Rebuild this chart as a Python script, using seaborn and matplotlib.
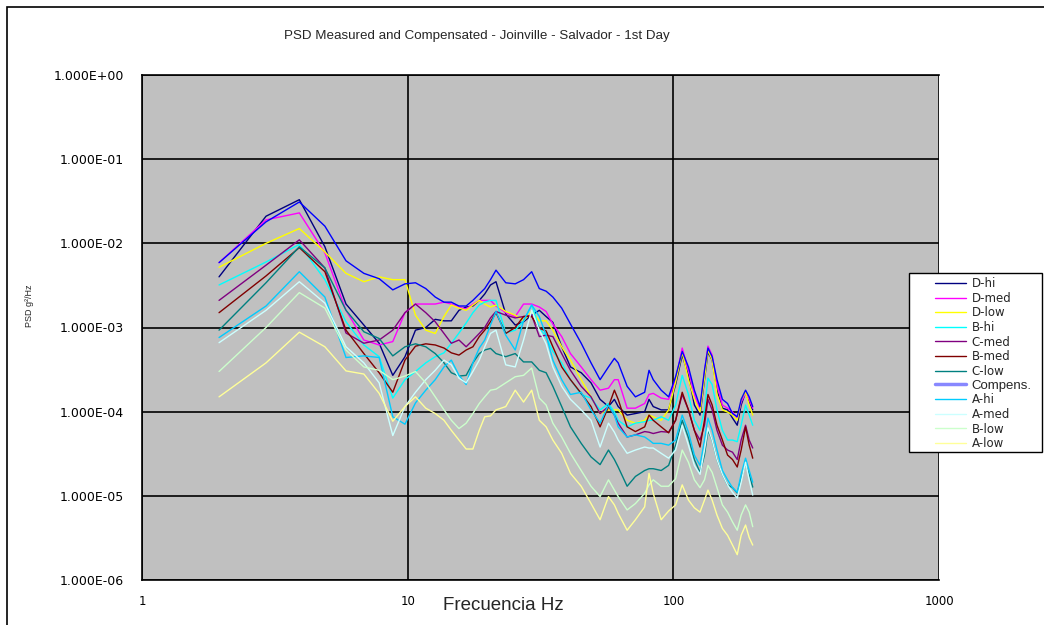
import numpy as np
import pandas as pd
import matplotlib
matplotlib.use("Agg")
import matplotlib.pyplot as plt
from matplotlib.lines import Line2D
from matplotlib.patches import Rectangle
from matplotlib.ticker import FixedLocator, FixedFormatter, NullLocator
import seaborn as sns

# ---------------- text ----------------
title = "PSD Measured and Compensated - Joinville - Salvador - 1st Day"
x_label = "Frecuencia Hz"
y_label = "PSD g²/Hz"
x_ticks = [1, 10, 100, 1000]
x_tick_labels = ["1", "10", "100", "1000"]
y_ticks = [1e-6, 1e-5, 1e-4, 1e-3, 1e-2, 1e-1, 1e0]
y_tick_labels = ["1.000E-06", "1.000E-05", "1.000E-04", "1.000E-03",
                 "1.000E-02", "1.000E-01", "1.000E+00"]

# ---------------- data ----------------
freq_hz = [1.95, 2.93, 3.91, 4.88, 5.86, 6.84, 7.81, 8.79, 9.77, 10.7,
           11.7, 12.7, 13.7, 14.6, 15.6, 16.6, 17.6, 18.6, 19.5, 20.5,
           21.5, 23.4, 25.4, 27.3, 29.3, 31.3, 33.2, 35.2, 38, 41,
           45, 49, 53, 57, 60, 62, 67, 72, 78, 81,
           84, 90, 96, 102, 108, 114, 120, 126, 131, 135,
           140, 146, 153, 160, 167, 174, 180, 187, 193, 199]

series_names = ["D-hi", "D-med", "D-low", "B-hi", "C-med", "B-med",
                "C-low", "Compens.", "A-hi", "A-med", "B-low", "A-low"]
series_colors = ["#000080", "#FF00FF", "#FFFF00", "#00FFFF", "#800080", "#800000",
                 "#008080", "#0000FF", "#00CCFF", "#CCFFFF", "#CCFFCC", "#FFFF99"]

d_hi = [4.0e-3, 2.1e-2, 3.3e-2, 9.1e-3, 1.9e-3, 1.07e-3, 6.5e-4, 2.7e-4, 4.5e-4, 9.3e-4,
        1.0e-3, 1.25e-3, 1.2e-3, 1.2e-3, 1.6e-3, 1.75e-3, 1.8e-3, 2.1e-3, 2.5e-3, 3.2e-3,
        3.5e-3, 1.45e-3, 1.07e-3, 1.17e-3, 1.4e-3, 1.6e-3, 1.35e-3, 1.15e-3, 5.9e-4, 3.4e-4,
        2.9e-4, 2.2e-4, 1.4e-4, 1.15e-4, 1.4e-4, 1.15e-4, 9.1e-5, 9.5e-5, 1.0e-4, 1.4e-4,
        1.15e-4, 1.05e-4, 1.05e-4, 2.1e-4, 4.7e-4, 2.7e-4, 1.2e-4, 9.1e-5, 2.4e-4, 5.1e-4,
        4.1e-4, 1.8e-4, 1.1e-4, 1.05e-4, 8.4e-5, 6.9e-5, 1.2e-4, 1.7e-4, 1.3e-4, 1.05e-4]

d_med = [5.9e-3, 1.9e-2, 2.3e-2, 7.7e-3, 1.6e-3, 7.1e-4, 6.2e-4, 6.8e-4, 1.5e-3, 1.9e-3,
         1.9e-3, 1.9e-3, 2.0e-3, 1.9e-3, 1.75e-3, 1.65e-3, 1.9e-3, 2.1e-3, 2.1e-3, 2.1e-3,
         1.8e-3, 1.5e-3, 1.35e-3, 1.9e-3, 1.9e-3, 1.75e-3, 1.55e-3, 1.1e-3, 7.8e-4, 4.9e-4,
         3.4e-4, 2.4e-4, 1.8e-4, 1.9e-4, 2.4e-4, 2.4e-4, 1.1e-4, 1.1e-4, 1.25e-4, 1.6e-4,
         1.65e-4, 1.45e-4, 1.4e-4, 2.4e-4, 5.7e-4, 3.1e-4, 1.6e-4, 1.05e-4, 3.0e-4, 6.0e-4,
         4.7e-4, 2.1e-4, 1.2e-4, 1.1e-4, 9.9e-5, 8.4e-5, 1.3e-4, 1.65e-4, 1.4e-4, 1.1e-4]

d_low = [5.2e-3, 1.0e-2, 1.5e-2, 7.9e-3, 4.4e-3, 3.5e-3, 4.0e-3, 3.7e-3, 3.7e-3, 1.4e-3,
         9.3e-4, 8.5e-4, 1.35e-3, 1.85e-3, 1.7e-3, 1.6e-3, 1.85e-3, 2.1e-3, 1.9e-3, 1.75e-3,
         1.85e-3, 1.55e-3, 1.4e-3, 1.2e-3, 1.55e-3, 1.2e-3, 1.2e-3, 9.3e-4, 5.9e-4, 4.1e-4,
         2.4e-4, 1.5e-4, 9.5e-5, 1.05e-4, 1.05e-4, 1.05e-4, 7.9e-5, 7.3e-5, 7.9e-5, 9.1e-5,
         8.7e-5, 7.9e-5, 1.05e-4, 2.25e-4, 5.1e-4, 2.4e-4, 1.4e-4, 9.9e-5, 2.5e-4, 5.4e-4,
         4.1e-4, 1.6e-4, 1.05e-4, 9.9e-5, 9.1e-5, 7.9e-5, 1.4e-4, 1.7e-4, 1.2e-4, 9.1e-5]

b_hi = [3.2e-3, 6.0e-3, 9.7e-3, 3.7e-3, 1.17e-3, 6.2e-4, 4.5e-4, 1.45e-4, 2.4e-4, 3.0e-4,
        3.8e-4, 4.5e-4, 5.0e-4, 6.5e-4, 8.6e-4, 1.13e-3, 1.5e-3, 1.85e-3, 2.0e-3, 2.1e-3,
        2.1e-3, 8.6e-4, 9.3e-4, 1.2e-3, 1.85e-3, 1.0e-3, 7.7e-4, 5.2e-4, 3.8e-4, 2.4e-4,
        1.6e-4, 1.45e-4, 1.05e-4, 1.25e-4, 9.9e-5, 7.9e-5, 6.6e-5, 7.3e-5, 7.6e-5, 7.9e-5,
        7.9e-5, 8.7e-5, 7.9e-5, 1.2e-4, 2.7e-4, 1.6e-4, 7.9e-5, 6.0e-5, 1.05e-4, 2.5e-4,
        2.1e-4, 1.05e-4, 6.0e-5, 4.6e-5, 4.6e-5, 4.4e-5, 6.9e-5, 1.2e-4, 9.1e-5, 6.9e-5]

c_med = [2.1e-3, 5.5e-3, 1.1e-2, 5.1e-3, 8.6e-4, 6.5e-4, 7.1e-4, 9.3e-4, 1.5e-3, 1.9e-3,
         1.5e-3, 1.17e-3, 8.5e-4, 6.5e-4, 7.1e-4, 5.9e-4, 7.1e-4, 8.5e-4, 1.0e-3, 1.3e-3,
         1.55e-3, 1.4e-3, 1.3e-3, 1.35e-3, 1.4e-3, 7.8e-4, 8.1e-4, 7.8e-4, 4.9e-4, 3.1e-4,
         2.0e-4, 1.5e-4, 9.5e-5, 1.15e-4, 9.1e-5, 7.3e-5, 5.0e-5, 5.3e-5, 5.8e-5, 5.7e-5,
         5.5e-5, 5.8e-5, 5.7e-5, 7.9e-5, 1.6e-4, 1.05e-4, 6.0e-5, 4.6e-5, 6.9e-5, 1.4e-4,
         1.05e-4, 6.0e-5, 4.0e-5, 3.5e-5, 3.3e-5, 2.7e-5, 4.6e-5, 6.9e-5, 4.6e-5, 3.7e-5]

b_med = [1.5e-3, 4.1e-3, 8.9e-3, 4.6e-3, 9.3e-4, 4.9e-4, 2.9e-4, 1.7e-4, 4.1e-4, 6.0e-4,
         6.4e-4, 6.2e-4, 5.7e-4, 5.0e-4, 4.7e-4, 5.4e-4, 5.9e-4, 7.8e-4, 9.3e-4, 1.17e-3,
         1.5e-3, 8.5e-4, 1.0e-3, 1.35e-3, 1.35e-3, 9.8e-4, 9.1e-4, 5.9e-4, 3.4e-4, 2.4e-4,
         1.65e-4, 1.15e-4, 6.6e-5, 1.15e-4, 1.8e-4, 1.4e-4, 6.6e-5, 5.8e-5, 6.6e-5, 9.1e-5,
         7.9e-5, 6.6e-5, 5.6e-5, 7.9e-5, 1.7e-4, 1.05e-4, 6.0e-5, 3.8e-5, 7.9e-5, 1.6e-4,
         1.2e-4, 6.9e-5, 4.6e-5, 3.05e-5, 2.7e-5, 2.2e-5, 3.5e-5, 6.6e-5, 4.0e-5, 2.8e-5]

c_low = [9.3e-4, 3.4e-3, 9.1e-3, 5.1e-3, 1.6e-3, 8.9e-4, 7.4e-4, 4.6e-4, 5.9e-4, 6.4e-4,
         5.9e-4, 4.9e-4, 3.8e-4, 2.9e-4, 2.65e-4, 2.7e-4, 3.8e-4, 4.9e-4, 5.4e-4, 5.65e-4,
         4.9e-4, 4.5e-4, 4.9e-4, 3.9e-4, 3.9e-4, 3.1e-4, 2.9e-4, 2.0e-4, 1.15e-4, 6.6e-5,
         4.2e-5, 2.9e-5, 2.35e-5, 3.5e-5, 2.7e-5, 2.2e-5, 1.3e-5, 1.7e-5, 2.0e-5, 2.1e-5,
         2.1e-5, 2.0e-5, 2.3e-5, 4.0e-5, 7.9e-5, 4.9e-5, 2.7e-5, 1.9e-5, 3.05e-5, 6.0e-5,
         4.6e-5, 2.7e-5, 1.8e-5, 1.35e-5, 1.25e-5, 1.08e-5, 1.6e-5, 2.45e-5, 1.8e-5, 1.27e-5]

compens = [5.9e-3, 1.8e-2, 3.1e-2, 1.6e-2, 6.2e-3, 4.4e-3, 3.8e-3, 2.8e-3, 3.3e-3, 3.4e-3,
           2.9e-3, 2.3e-3, 2.0e-3, 2.0e-3, 1.8e-3, 1.8e-3, 2.1e-3, 2.5e-3, 2.9e-3, 3.7e-3,
           4.8e-3, 3.4e-3, 3.3e-3, 3.7e-3, 4.6e-3, 2.9e-3, 2.7e-3, 2.3e-3, 1.7e-3, 1.1e-3,
           6.5e-4, 3.8e-4, 2.4e-4, 3.4e-4, 4.3e-4, 3.8e-4, 2.0e-4, 1.5e-4, 1.7e-4, 3.1e-4,
           2.4e-4, 1.8e-4, 1.5e-4, 2.6e-4, 5.2e-4, 3.4e-4, 1.8e-4, 1.15e-4, 3.1e-4, 5.7e-4,
           4.5e-4, 2.4e-4, 1.4e-4, 1.25e-4, 9.5e-5, 8.7e-5, 1.4e-4, 1.8e-4, 1.5e-4, 1.15e-4]

a_hi = [7.6e-4, 1.8e-3, 4.6e-3, 2.3e-3, 4.4e-4, 4.6e-4, 4.4e-4, 8.7e-5, 7.1e-5, 1.27e-4,
        1.8e-4, 2.4e-4, 3.4e-4, 4.1e-4, 2.7e-4, 2.1e-4, 3.8e-4, 5.7e-4, 7.1e-4, 1.07e-3,
        1.55e-3, 8.1e-4, 5.4e-4, 1.2e-3, 1.85e-3, 1.35e-3, 8.1e-4, 4.1e-4, 2.4e-4, 1.6e-4,
        1.7e-4, 1.05e-4, 7.3e-5, 1.2e-4, 9.1e-5, 6.6e-5, 5.0e-5, 5.3e-5, 5.0e-5, 4.6e-5,
        4.2e-5, 4.2e-5, 4.0e-5, 4.6e-5, 9.1e-5, 5.7e-5, 3.05e-5, 2.3e-5, 4.6e-5, 8.4e-5,
        6.0e-5, 3.5e-5, 2.0e-5, 1.55e-5, 1.25e-5, 1.1e-5, 1.8e-5, 2.8e-5, 2.0e-5, 1.45e-5]

a_med = [6.6e-4, 1.6e-3, 3.5e-3, 1.95e-3, 5.9e-4, 3.8e-4, 2.2e-4, 5.2e-5, 1.15e-4, 1.7e-4,
         2.4e-4, 3.1e-4, 4.1e-4, 3.6e-4, 2.5e-4, 2.2e-4, 3.0e-4, 4.1e-4, 5.9e-4, 8.5e-4,
         9.3e-4, 3.6e-4, 3.4e-4, 7.1e-4, 1.6e-3, 9.3e-4, 6.4e-4, 3.4e-4, 2.0e-4, 1.4e-4,
         1.05e-4, 7.9e-5, 3.8e-5, 7.3e-5, 5.7e-5, 4.6e-5, 3.2e-5, 3.5e-5, 3.8e-5, 3.7e-5,
         3.7e-5, 3.2e-5, 2.8e-5, 3.5e-5, 6.9e-5, 4.0e-5, 2.3e-5, 1.8e-5, 3.5e-5, 6.4e-5,
         4.6e-5, 2.7e-5, 1.8e-5, 1.35e-5, 1.1e-5, 9.4e-6, 1.45e-5, 2.5e-5, 1.55e-5, 1.02e-5]

b_low = [3.0e-4, 1.0e-3, 2.6e-3, 1.7e-3, 5.4e-4, 3.4e-4, 3.1e-4, 2.4e-4, 2.65e-4, 3.0e-4,
         2.2e-4, 1.5e-4, 1.05e-4, 7.9e-5, 6.3e-5, 7.3e-5, 9.5e-5, 1.25e-4, 1.5e-4, 1.8e-4,
         1.85e-4, 2.2e-4, 2.6e-4, 2.7e-4, 3.3e-4, 1.45e-4, 1.2e-4, 7.3e-5, 5.0e-5, 3.2e-5,
         2.0e-5, 1.3e-5, 9.8e-6, 1.55e-5, 1.17e-5, 9.8e-6, 6.8e-6, 8.1e-6, 1.07e-5, 1.35e-5,
         1.55e-5, 1.3e-5, 1.3e-5, 1.6e-5, 3.5e-5, 2.5e-5, 1.55e-5, 1.25e-5, 1.55e-5, 2.3e-5,
         1.9e-5, 1.25e-5, 7.8e-6, 6.4e-6, 4.9e-6, 3.9e-6, 5.9e-6, 7.8e-6, 6.4e-6, 4.3e-6]

a_low = [1.5e-4, 3.8e-4, 8.8e-4, 5.9e-4, 3.05e-4, 2.8e-4, 1.65e-4, 7.7e-5, 1.15e-4, 1.5e-4,
         1.1e-4, 9.5e-5, 7.9e-5, 6.0e-5, 4.6e-5, 3.6e-5, 3.6e-5, 6.0e-5, 8.7e-5, 8.9e-5,
         1.05e-4, 1.15e-4, 1.8e-4, 1.3e-4, 1.8e-4, 7.9e-5, 6.6e-5, 4.6e-5, 3.2e-5, 1.85e-5,
         1.3e-5, 8.1e-6, 5.2e-6, 9.8e-6, 7.8e-6, 6.2e-6, 3.9e-6, 5.2e-6, 7.4e-6, 1.85e-5,
         1.07e-5, 5.2e-6, 6.6e-6, 7.8e-6, 1.35e-5, 8.9e-6, 7.2e-6, 6.4e-6, 8.9e-6, 1.17e-5,
         8.9e-6, 5.9e-6, 4.1e-6, 3.4e-6, 2.6e-6, 2.0e-6, 3.4e-6, 4.5e-6, 3.2e-6, 2.6e-6]

series_values = {"D-hi": d_hi, "D-med": d_med, "D-low": d_low, "B-hi": b_hi,
                 "C-med": c_med, "B-med": b_med, "C-low": c_low, "Compens.": compens,
                 "A-hi": a_hi, "A-med": a_med, "B-low": b_low, "A-low": a_low}

rows = []
for name in series_names:
    for f, v in zip(freq_hz, series_values[name]):
        rows.append((name, f, v))
df = pd.DataFrame(rows, columns=["series", "freq", "psd"])
palette = dict(zip(series_names, series_colors))

# ---------------- figure ----------------
sns.set_style("white")
plt.rcParams["font.family"] = ["DejaVu Sans"]

W, H = 1044, 625
fig = plt.figure(figsize=(W / 100, H / 100), dpi=100)
fig.patch.set_facecolor("white")
ax = fig.add_axes([142 / W, 45 / H, 797 / W, 505 / H])

sns.lineplot(data=df, x="freq", y="psd", hue="series", hue_order=series_names,
             palette=palette, linewidth=1.0, estimator=None, sort=False,
             legend=False, ax=ax)

ax.set_xscale("log")
ax.set_yscale("log")
ax.set_xlim(1, 1000)
ax.set_ylim(1e-6, 1)
ax.set_facecolor("#c0c0c0")

ax.xaxis.set_major_locator(FixedLocator(x_ticks))
ax.xaxis.set_major_formatter(FixedFormatter(x_tick_labels))
ax.xaxis.set_minor_locator(NullLocator())
ax.yaxis.set_major_locator(FixedLocator(y_ticks))
ax.yaxis.set_major_formatter(FixedFormatter(y_tick_labels))
ax.yaxis.set_minor_locator(NullLocator())

ax.grid(True, which="major", color="black", linewidth=1.2)
for s in ["left", "bottom", "top"]:
    ax.spines[s].set_color("black")
    ax.spines[s].set_linewidth(1.2)
ax.spines["right"].set_visible(False)

ax.tick_params(axis="y", which="major", length=4, direction="in", pad=13,
               labelsize=9, colors="black")
ax.tick_params(axis="x", which="major", length=4, direction="in", pad=11,
               labelsize=8.5, colors="black")

ax.set_xlabel(x_label, fontsize=13.5, family=["Liberation Sans", "DejaVu Sans"])
ax.xaxis.label.set_va("center")
ax.xaxis.set_label_coords((503 - 142) / 797, (580 - 606) / 505)
ax.set_ylabel(y_label, fontsize=6.5, family=["Liberation Sans", "DejaVu Sans"])
ax.yaxis.label.set_va("center")
ax.yaxis.set_label_coords((30 - 142) / 797, (580 - 306) / 505)

fig.text(477 / W, 1 - 36 / H, title, ha="center", va="center", fontsize=9.6,
         family=["Liberation Sans", "DejaVu Sans"])

# outer frame of the chart area
fig.patches.append(Rectangle((7 / W, -0.1), 1.2, 1 - 7 / H + 0.1, transform=fig.transFigure,
                             fill=False, edgecolor="black", linewidth=1.2, clip_on=False))

# legend box
fig.patches.append(Rectangle((909 / W, 1 - 452 / H), (1042 - 909) / W, (452 - 273) / H,
                             transform=fig.transFigure, facecolor="white",
                             edgecolor="black", linewidth=1.0, zorder=5))
handles = []
for name, col in zip(series_names, series_colors):
    if name == "Compens.":
        handles.append(Line2D([], [], color="#8888ff", linewidth=2.5))
    else:
        handles.append(Line2D([], [], color=col, linewidth=1.0))
leg = fig.legend(handles, series_names, loc="upper left",
                 bbox_to_anchor=(935 / W, 1 - 277 / H), frameon=False,
                 fontsize=8.5, handlelength=2.6, handletextpad=0.5,
                 labelspacing=0.14, borderpad=0, borderaxespad=0)
leg.set_zorder(6)
for t in leg.get_texts():
    if t.get_text() == "Compens.":
        t.set_fontsize(9.5)
        t.set_family(["Liberation Sans", "DejaVu Sans"])

fig.savefig("out.png", dpi=100)
